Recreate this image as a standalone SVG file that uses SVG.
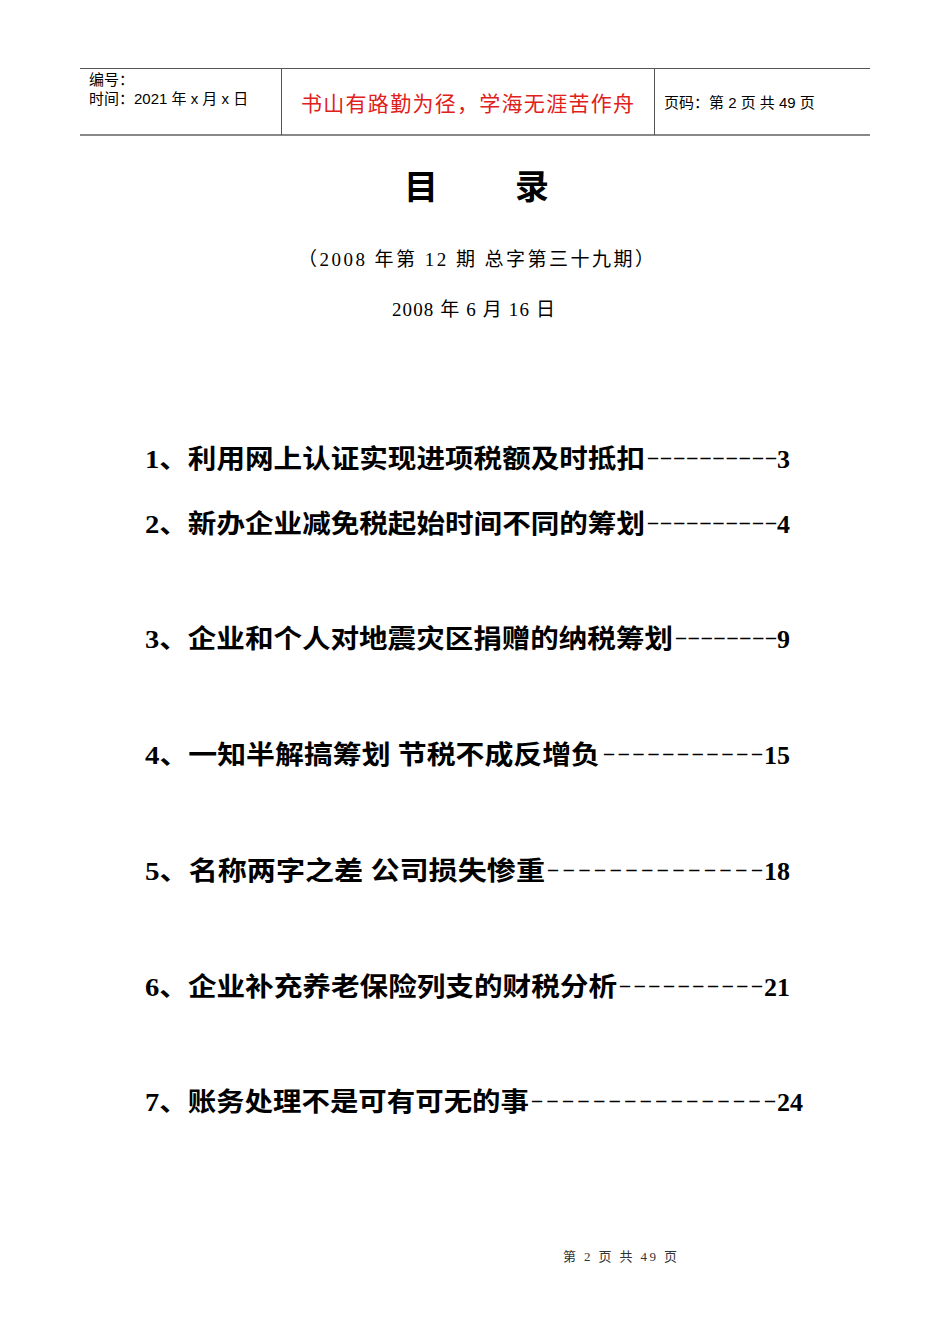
<svg xmlns="http://www.w3.org/2000/svg" width="950" height="1344" viewBox="0 0 950 1344">
<style>
.h{font-family:"Liberation Sans","Noto Sans CJK SC",sans-serif;font-size:15px;fill:#000}
.t{font-family:"Liberation Serif","Noto Sans CJK SC",serif;font-size:26px;font-weight:bold;fill:#000}
.d{font-family:"Liberation Serif",serif;font-size:20px;font-weight:bold;fill:#000}
.n{font-family:"Liberation Serif",serif;font-size:26px;font-weight:bold;fill:#000;text-anchor:end}
.s{font-family:"Liberation Serif","Noto Sans CJK SC",serif;font-size:19px;fill:#000}
</style>
<rect width="950" height="1344" fill="#fff"/>
<g id="header">
<line x1="80" y1="68.5" x2="870" y2="68.5" stroke="#555" stroke-width="1"/>
<line x1="80" y1="135" x2="870" y2="135" stroke="#888" stroke-width="2"/>
<line x1="281.5" y1="68" x2="281.5" y2="135" stroke="#555"/>
<line x1="654.5" y1="68" x2="654.5" y2="135" stroke="#555"/>
<text class="h" x="89" y="85">编号：</text>
<text class="h" x="89" y="104">时间：2021 年 x 月 x 日</text>
<text x="301" y="111" font-family="Liberation Sans,'Noto Sans CJK SC',sans-serif" font-size="21" fill="#e0201a" textLength="333">书山有路勤为径，学海无涯苦作舟</text>
<text class="h" x="664" y="108">页码：第 2 页  共 49 页</text>
</g>
<g id="title">
<text x="404" y="199" font-family="'Noto Sans CJK SC',sans-serif" font-size="34" font-weight="bold">目</text>
<text x="515" y="199" font-family="'Noto Sans CJK SC',sans-serif" font-size="34" font-weight="bold">录</text>
<text class="s" x="298" y="266" textLength="356">（2008 年第 12 期   总字第三十九期）</text>
<text class="s" x="392" y="316" textLength="163">2008 年 6 月 16 日</text>
</g>
<g id="toc">
<text class="t" x="145" y="468" textLength="500" lengthAdjust="spacingAndGlyphs">1、利用网上认证实现进项税额及时抵扣</text>
<text class="d" x="648" y="464" textLength="128">––––––––––</text>
<text class="n" x="790" y="468">3</text>
<text class="t" x="145" y="533" textLength="500" lengthAdjust="spacingAndGlyphs">2、新办企业减免税起始时间不同的筹划</text>
<text class="d" x="648" y="529" textLength="128">––––––––––</text>
<text class="n" x="790" y="533">4</text>
<text class="t" x="145" y="648" textLength="528" lengthAdjust="spacingAndGlyphs">3、企业和个人对地震灾区捐赠的纳税筹划</text>
<text class="d" x="676" y="644" textLength="100">––––––––</text>
<text class="n" x="790" y="648">9</text>
<text class="t" x="145" y="764" textLength="455" lengthAdjust="spacingAndGlyphs">4、一知半解搞筹划 节税不成反增负</text>
<text class="d" x="604" y="760" textLength="158">–––––––––––</text>
<text class="n" x="790" y="764">15</text>
<text class="t" x="145" y="880" textLength="400" lengthAdjust="spacingAndGlyphs">5、名称两字之差 公司损失惨重</text>
<text class="d" x="548" y="876" textLength="214">––––––––––––––</text>
<text class="n" x="790" y="880">18</text>
<text class="t" x="145" y="996" textLength="472" lengthAdjust="spacingAndGlyphs">6、企业补充养老保险列支的财税分析</text>
<text class="d" x="620" y="992" textLength="142">––––––––––</text>
<text class="n" x="790" y="996">21</text>
<text class="t" x="145" y="1111" textLength="384" lengthAdjust="spacingAndGlyphs">7、账务处理不是可有可无的事</text>
<text class="d" x="532" y="1107" textLength="243">––––––––––––––––</text>
<text class="n" x="803" y="1111">24</text>
</g>
<text x="563" y="1261" font-family="'Liberation Serif','Noto Sans CJK SC',serif" font-size="13" fill="#333" textLength="114">第 2 页 共 49 页</text>
</svg>
